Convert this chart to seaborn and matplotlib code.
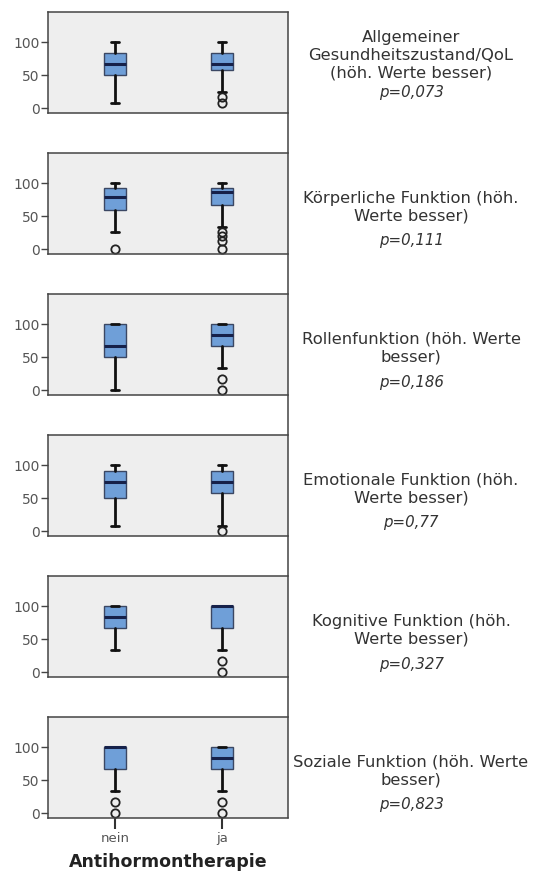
import matplotlib
matplotlib.use("Agg")
import matplotlib.pyplot as plt
from matplotlib.lines import Line2D
import seaborn as sns

# ---- data ----
groups = ["nein", "ja"]
scales = [
    "Allgemeiner\nGesundheitszustand/QoL\n(höh. Werte besser)",
    "Körperliche Funktion (höh.\nWerte besser)",
    "Rollenfunktion (höh. Werte\nbesser)",
    "Emotionale Funktion (höh.\nWerte besser)",
    "Kognitive Funktion (höh.\nWerte besser)",
    "Soziale Funktion (höh. Werte\nbesser)",
]
p_values = ["p=0,073", "p=0,111", "p=0,186", "p=0,77", "p=0,327", "p=0,823"]

# per scale: [nein, ja]
whisker_low = [[8.3, 25.0], [26.7, 33.3], [0.0, 33.3], [8.3, 8.3], [33.3, 33.3], [33.3, 33.3]]
q1 = [[50.0, 58.3], [60.0, 66.7], [50.0, 66.7], [50.0, 58.3], [66.7, 66.7], [66.7, 66.7]]
median = [[66.7, 66.7], [80.0, 86.7], [66.7, 83.3], [75.0, 75.0], [83.3, 100.0], [100.0, 83.3]]
q3 = [[83.3, 83.3], [93.3, 93.3], [100.0, 100.0], [91.7, 91.7], [100.0, 100.0], [100.0, 100.0]]
whisker_high = [[100.0, 100.0], [100.0, 100.0], [100.0, 100.0], [100.0, 100.0], [100.0, 100.0], [100.0, 100.0]]
outliers = [
    [[], [16.7, 8.3]],
    [[0.0], [26.7, 20.0, 13.3, 0.0]],
    [[], [16.7, 0.0]],
    [[], [0.0]],
    [[], [16.7, 0.0]],
    [[16.7, 0.0], [16.7, 0.0]],
]
y_ticks = [0, 50, 100]
x_title = "Antihormontherapie"

# ---- style ----
sns.set_style("white")
plt.rcParams["font.family"] = ["DejaVu Sans"]

W, H = 535, 875
fig = plt.figure(figsize=(W / 100, H / 100), dpi=100)

panel_left, panel_w, panel_h = 48, 240, 101
panel_tops = [12, 153, 294, 435, 576, 717]

box_color = "#6f9fd8"
edge_color = "#3b4763"
dark = "#222222"

for i in range(len(scales)):
    top = panel_tops[i]
    ax = fig.add_axes([panel_left / W, 1 - (top + panel_h) / H, panel_w / W, panel_h / H])
    ax.set_facecolor("#eeeeee")
    stats = []
    for g in range(len(groups)):
        stats.append(dict(med=median[i][g], q1=q1[i][g], q3=q3[i][g],
                          whislo=whisker_low[i][g], whishi=whisker_high[i][g],
                          fliers=outliers[i][g], label=groups[g]))
    ax.bxp(stats, positions=list(range(len(groups))), widths=0.2, capwidths=0.08,
           patch_artist=True, showfliers=True,
           boxprops=dict(facecolor=box_color, edgecolor=edge_color, linewidth=1.0),
           medianprops=dict(color="#16214a", linewidth=2.2, solid_capstyle="butt"),
           whiskerprops=dict(color="#111111", linewidth=2.0),
           capprops=dict(color="#111111", linewidth=2.0),
           flierprops=dict(marker="o", markerfacecolor="none", markeredgecolor=dark,
                           markersize=6, markeredgewidth=1.3))
    ax.set_xlim(-0.626, 1.617)
    ax.set_ylim(-7, 146)
    ax.set_yticks(y_ticks)
    ax.set_yticklabels([str(t) for t in y_ticks], fontsize=10, color="#555555")
    ax.tick_params(axis="y", direction="out", length=5, width=1, color="#444444", pad=1, left=True)
    for s in ["left", "bottom", "top"]:
        ax.spines[s].set_color("#444444")
        ax.spines[s].set_linewidth(1.1)
        ax.spines[s].set_visible(True)
    ax.spines["right"].set_visible(False)
    if i == len(scales) - 1:
        ax.set_xticks(range(len(groups)))
        ax.set_xticklabels(groups, fontsize=9.5, color="#555555")
        ax.tick_params(axis="x", direction="out", length=8, width=1.5, color="#333333", pad=2, bottom=True)
        ax.set_xlabel(x_title, fontsize=12.5, fontweight="bold", color="#222222", labelpad=6)
    else:
        ax.set_xticks([])

    # right-side labels
    n_lines = scales[i].count("\n") + 1
    if n_lines == 3:
        cy, py = top + 43, top + 81
    else:
        cy, py = top + 54, top + 88
    fig.text(411 / W, 1 - cy / H, scales[i], ha="center", va="center", fontsize=11.8,
             color="#333333", linespacing=1.22)
    fig.text(411 / W, 1 - py / H, p_values[i], ha="center", va="center", fontsize=10.8,
             style="italic", color="#333333")

# long right border line
fig.add_artist(Line2D([288 / W, 288 / W], [1 - 12 / H, 1 - 818 / H], color="#444444", linewidth=1.1,
                      transform=fig.transFigure))

fig.savefig("out.png", dpi=100, facecolor="white")
